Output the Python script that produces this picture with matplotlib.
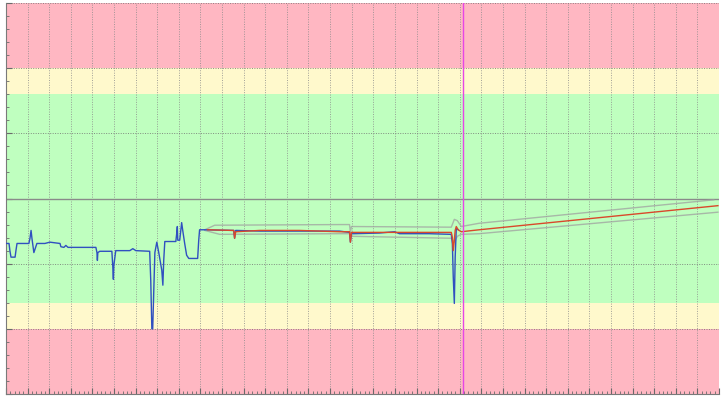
"""Signal trace against tolerance bands (recreated chart)."""

import matplotlib
matplotlib.use("Agg")
import matplotlib.pyplot as plt
from matplotlib.ticker import MultipleLocator, NullFormatter

# Measured signal (blue).
meas_x = [0.00, 0.14, 0.18, 0.23, 0.42, 0.46, 0.51, 1.06, 1.11, 1.16, 1.20, 1.29, 1.34, 1.43,
          1.80, 2.03, 2.50, 2.54, 2.68, 2.77, 2.87, 4.16, 4.21, 4.23, 4.25, 4.34, 4.90, 4.94,
          4.97, 4.99, 5.08, 5.73, 5.87, 6.01, 6.65, 6.70, 6.75, 6.79, 6.84, 6.89, 6.98, 7.07,
          7.21, 7.26, 7.30, 7.35, 7.86, 7.90, 7.93, 7.95, 8.04, 8.09, 8.13, 8.18, 8.27, 8.36,
          8.46, 8.87, 8.92, 8.96, 9.20, 10.54, 10.58, 10.63, 10.67, 11.74, 13.59, 15.43, 15.90,
          15.94, 15.99, 16.13, 17.28, 17.98, 18.21, 19.59, 20.61, 20.66, 20.70, 20.75, 20.79,
          20.84, 20.93]
meas_y = [-0.69, -0.69, -0.80, -0.90, -0.90, -0.80, -0.69, -0.69, -0.61, -0.49, -0.61, -0.83,
          -0.78, -0.69, -0.69, -0.67, -0.69, -0.74, -0.75, -0.72, -0.75, -0.75, -0.83, -0.95,
          -0.83, -0.81, -0.81, -1.03, -1.24, -1.03, -0.80, -0.80, -0.77, -0.80, -0.81, -1.26,
          -2.00, -2.00, -1.41, -0.83, -0.67, -0.83, -1.10, -1.33, -0.95, -0.66, -0.66, -0.54,
          -0.43, -0.64, -0.64, -0.49, -0.37, -0.49, -0.69, -0.87, -0.92, -0.92, -0.64, -0.48,
          -0.48, -0.49, -0.61, -0.49, -0.49, -0.50, -0.50, -0.50, -0.52, -0.67, -0.54, -0.54,
          -0.53, -0.51, -0.54, -0.54, -0.55, -0.70, -1.20, -1.61, -0.90, -0.46, -0.48]

# Model prediction (red).
model_x = [9.33, 10.54, 10.58, 10.63, 11.74, 13.59, 15.43, 15.90, 15.94, 15.99, 17.28, 19.13,
           20.61, 20.66, 20.70, 20.75, 20.79, 20.84, 20.93, 21.07, 21.90, 32.95]
model_y = [-0.48, -0.49, -0.61, -0.51, -0.49, -0.49, -0.51, -0.51, -0.67, -0.52, -0.52, -0.52,
           -0.52, -0.60, -0.80, -0.64, -0.49, -0.43, -0.48, -0.51, -0.48, -0.11]

# Prediction envelope (grey).
upper_x = [9.20, 9.66, 15.43, 15.90, 15.94, 15.99, 20.61, 20.75, 20.89, 21.07, 21.90, 32.76]
upper_y = [-0.48, -0.41, -0.40, -0.40, -0.52, -0.43, -0.44, -0.32, -0.34, -0.43, -0.38, -0.02]
lower_x = [9.20, 9.89, 15.43, 15.90, 15.99, 20.61, 20.75, 20.89, 21.07, 21.90, 32.95]
lower_y = [-0.49, -0.55, -0.54, -0.54, -0.58, -0.61, -0.67, -0.58, -0.55, -0.54, -0.21]

# Tolerance bands and cursor.
warn_limit = 1.6
alarm_limit = 2.0
y_limit = 3.0
x_limit = 33.0
cursor_x = 21.17

fig = plt.figure(figsize=(7.25, 4.04), dpi=100)
ax = fig.add_axes([6 / 725, 10 / 404, 713 / 725, 391 / 404])

ax.axhspan(alarm_limit, y_limit, color="#FFB7C2", lw=0, zorder=0)
ax.axhspan(warn_limit, alarm_limit, color="#FFF9CC", lw=0, zorder=0)
ax.axhspan(-warn_limit, warn_limit, color="#BFFFBF", lw=0, zorder=0)
ax.axhspan(-alarm_limit, -warn_limit, color="#FFF9CC", lw=0, zorder=0)
ax.axhspan(-y_limit, -alarm_limit, color="#FFB7C2", lw=0, zorder=0)

ax.set_xlim(0, x_limit)
ax.set_ylim(-y_limit, y_limit)
ax.xaxis.set_major_locator(MultipleLocator(1))
ax.xaxis.set_minor_locator(MultipleLocator(0.2))
ax.yaxis.set_major_locator(MultipleLocator(1))
ax.yaxis.set_minor_locator(MultipleLocator(0.2))
ax.xaxis.set_major_formatter(NullFormatter())
ax.yaxis.set_major_formatter(NullFormatter())
ax.tick_params(which="both", direction="in", color="#6A6A6A", labelsize=0)
ax.tick_params(which="major", length=4, width=0.8)
ax.tick_params(which="minor", length=2, width=0.6)

ax.grid(True, axis="x", color="#8A8A8A", linestyle=(0, (1, 1.5)), linewidth=0.7, alpha=0.8)
ax.grid(True, axis="y", color="#707070", linestyle=(0, (1, 1.5)), linewidth=0.7, alpha=0.8)
ax.axhline(0, color="#8A8A8A", linewidth=1.0, zorder=1)
ax.set_axisbelow(True)

for side in ("top", "right"):
    ax.spines[side].set_visible(False)
for side in ("left", "bottom"):
    ax.spines[side].set_color("#7A7A7A")
    ax.spines[side].set_linewidth(0.8)

ax.plot(upper_x, upper_y, color="#A0A0A0", linewidth=1.0, alpha=0.75, zorder=2)
ax.plot(lower_x, lower_y, color="#A0A0A0", linewidth=1.0, alpha=0.75, zorder=2)
ax.plot(meas_x, meas_y, color="#3050C0", linewidth=1.0, zorder=3)
ax.plot(model_x, model_y, color="#D9482B", linewidth=1.0, zorder=4)
ax.axvline(cursor_x, color="#E645E6", linewidth=1.0, zorder=5)

fig.savefig("out.png", dpi=100)
